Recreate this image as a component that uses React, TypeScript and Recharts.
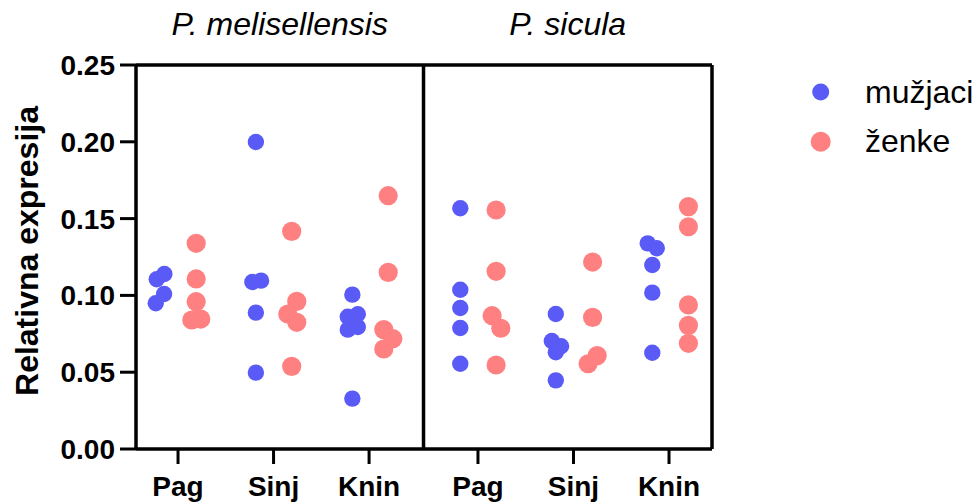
import { Legend, ReferenceLine, Scatter, ScatterChart, XAxis, YAxis } from "recharts";

const categories = ["Pag", "Sinj", "Knin", "Pag", "Sinj", "Knin"];
const species = ["P. melisellensis", "P. sicula"];
const yTicks = [0, 0.05, 0.1, 0.15, 0.2, 0.25];

// values per locality (in category order)
const maleValues = [
  [0.1105, 0.1139, 0.1009, 0.0949],
  [0.1999, 0.1087, 0.1096, 0.0888, 0.0497],
  [0.1005, 0.0861, 0.0877, 0.0777, 0.0794, 0.0328],
  [0.1567, 0.1037, 0.0918, 0.0788, 0.0555],
  [0.0879, 0.0703, 0.0669, 0.063, 0.0447],
  [0.1339, 0.1307, 0.1198, 0.1018, 0.0627],
];
const femaleValues = [
  [0.1339, 0.1107, 0.0959, 0.084, 0.0846],
  [0.1417, 0.0961, 0.0879, 0.0825, 0.0538],
  [0.1649, 0.115, 0.0777, 0.0718, 0.0651],
  [0.1556, 0.1157, 0.0868, 0.0786, 0.0547],
  [0.1217, 0.0857, 0.0608, 0.0555],
  [0.1578, 0.1447, 0.0938, 0.0805, 0.0688],
];
// horizontal jitter of each point (category units)
const maleJitter = [
  [-0.038, 0.042, 0.039, -0.048],
  [0, -0.037, 0.054, 0, 0],
  [0.01, -0.038, 0.067, -0.038, 0.067, 0.01],
  [0, 0, 0, 0, 0],
  [0, -0.042, 0.055, 0, 0],
  [-0.038, 0.057, 0.01, 0.01, 0.01],
];
const femaleJitter = [
  [0, 0, 0, -0.046, 0.048],
  [0, 0.053, -0.041, 0.053, 0],
  [0.01, 0.01, -0.036, 0.059, -0.036],
  [0, 0, -0.042, 0.049, 0],
  [0.01, 0.01, 0.058, -0.037],
  [0.013, 0.013, 0.013, 0.013, 0.013],
];

const BLUE = "#5a5af7";
const PINK = "#ff8080";
const FONT = "'Liberation Sans', Arial, sans-serif";

const GAP = 0.14;
const X_MIN = 0.56;
const X_MAX = 6.59;
const groupPos = categories.map((_, i) => i + 1 + (i >= 3 ? GAP : 0));
const divider = (groupPos[2] + groupPos[3]) / 2;
const panelCenters = [(X_MIN + divider) / 2, (divider + X_MAX) / 2];

const MALE_OFF = -0.185;
const FEMALE_OFF = 0.19;

const maleData = maleValues.flatMap((vals, g) =>
  vals.map((v, k) => ({ x: groupPos[g] + MALE_OFF + maleJitter[g][k], y: v }))
);
const femaleData = femaleValues.flatMap((vals, g) =>
  vals.map((v, k) => ({ x: groupPos[g] + FEMALE_OFF + femaleJitter[g][k], y: v }))
);

const AXIS_W = 3.5;

// plot box in pixels (matches margins / axis sizes below)
const PLOT_LEFT = 136;
const PLOT_RIGHT = 712;
const toPx = (v: number) => PLOT_LEFT + ((v - X_MIN) / (X_MAX - X_MIN)) * (PLOT_RIGHT - PLOT_LEFT);

function LegendBox() {
  return (
    <svg width={180} height={100} style={{ display: "block" }}>
      <circle cx={20.7} cy={22} r={8.5} fill={BLUE} />
      <text x={65} y={33} fontSize={32} fontFamily={FONT} fill="#000">
        mužjaci
      </text>
      <circle cx={20.7} cy={71.7} r={10} fill={PINK} />
      <text x={65} y={82} fontSize={32} fontFamily={FONT} fill="#000">
        ženke
      </text>
    </svg>
  );
}

function Titles() {
  return (
    <g>
      <text
        x={38}
        y={251}
        transform="rotate(-90, 38, 251)"
        textAnchor="middle"
        fontSize={32}
        fontWeight="bold"
        fontFamily={FONT}
        fill="#000"
      >
        Relativna expresija
      </text>
      {species.map((s, i) => (
        <text
          key={s}
          x={toPx(panelCenters[i])}
          y={35}
          textAnchor="middle"
          fontSize={32}
          fontStyle="italic"
          fontFamily={FONT}
          fill="#000"
        >
          {s}
        </text>
      ))}
    </g>
  );
}

export default function App() {
  return (
    <div style={{ position: "absolute", left: 0, top: 0, background: "#fff" }}>
      <ScatterChart width={980} height={503} margin={{ top: 0, right: 268, bottom: 0, left: 56 }}>
        <XAxis
          type="number"
          dataKey="x"
          domain={[X_MIN, X_MAX]}
          ticks={groupPos}
          interval={0}
          tickFormatter={(_v: number, i: number) => categories[i]}
          height={54}
          tickSize={15}
          tickMargin={12}
          axisLine={{ stroke: "#000", strokeWidth: AXIS_W }}
          tickLine={{ stroke: "#000", strokeWidth: 3 }}
          tick={{ fill: "#000", fontSize: 28, fontWeight: "bold", fontFamily: FONT }}
          allowDataOverflow
        />
        <XAxis
          xAxisId="top"
          orientation="top"
          type="number"
          domain={[X_MIN, X_MAX]}
          height={65}
          tick={false}
          tickLine={false}
          axisLine={{ stroke: "#000", strokeWidth: AXIS_W }}
          allowDataOverflow
        />
        <YAxis
          type="number"
          dataKey="y"
          domain={[0, 0.25]}
          ticks={yTicks}
          interval={0}
          width={80}
          tickSize={16}
          tickMargin={5}
          tickFormatter={(v: number) => v.toFixed(2)}
          axisLine={{ stroke: "#000", strokeWidth: AXIS_W }}
          tickLine={{ stroke: "#000", strokeWidth: 3 }}
          tick={{ fill: "#000", fontSize: 28, fontWeight: "bold", fontFamily: FONT }}
          label={{ content: () => <Titles /> }}
        />
        <ReferenceLine x={divider} stroke="#000" strokeWidth={AXIS_W} />
        <ReferenceLine x={X_MAX} stroke="#000" strokeWidth={AXIS_W} />
        <Scatter
          name="mužjaci"
          data={maleData}
          isAnimationActive={false}
          shape={(p: any) => <circle cx={p.cx} cy={p.cy} r={8.2} fill={BLUE} />}
        />
        <Scatter
          name="ženke"
          data={femaleData}
          isAnimationActive={false}
          shape={(p: any) => <circle cx={p.cx} cy={p.cy} r={9.6} fill={PINK} />}
        />
        <Legend
          layout="vertical"
          align="center"
          verticalAlign="middle"
          content={() => <LegendBox />}
          wrapperStyle={{ left: 800, top: 70, width: 180, height: 100 }}
        />
      </ScatterChart>
    </div>
  );
}
